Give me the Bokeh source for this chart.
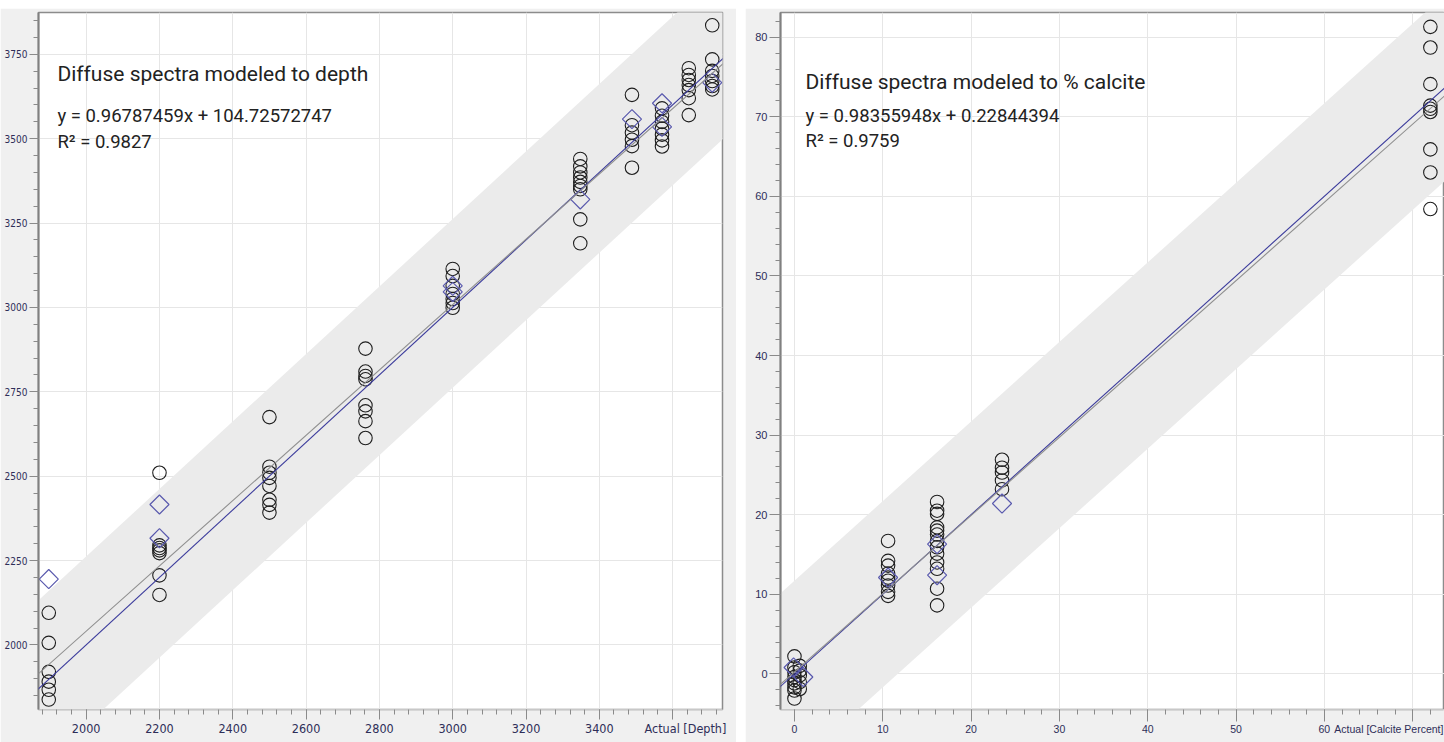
import numpy as np
from bokeh.plotting import figure
from bokeh.models import (Slope, Label, SingleIntervalTicker, FixedTicker, Range1d,
                          LinearAxis, CustomJSTickFormatter, Spacer)
from bokeh.layouts import row, column
from bokeh.embed import file_html
from bokeh.resources import INLINE

# ---------------- data: depth model ----------------
depth_cal_x = ([1898] * 6 + [2200] * 7 + [2500] * 8 + [2762] * 8 + [3000] * 7 +
               [3348] * 9 + [3489] * 6 + [3571] * 7 + [3644] * 7 + [3708] * 7)
depth_cal_y = [2095, 2006, 1920, 1891, 1867, 1838,
               2510, 2295, 2287, 2280, 2272, 2206, 2148,
               2675, 2528, 2510, 2495, 2471, 2430, 2415, 2392,
               2878, 2810, 2797, 2787, 2710, 2692, 2663, 2613,
               3114, 3093, 3064, 3040, 3025, 3013, 2999,
               3440, 3418, 3400, 3385, 3372, 3360, 3350, 3261, 3190,
               3630, 3540, 3518, 3497, 3478, 3414,
               3590, 3568, 3550, 3530, 3512, 3495, 3477,
               3709, 3689, 3674, 3659, 3644, 3620, 3570,
               3836, 3735, 3701, 3686, 3671, 3656, 3646]
depth_val_x = [1898, 2200, 2200, 3000, 3000, 3348, 3489, 3571, 3571, 3708]
depth_val_y = [2195, 2416, 2316, 3064, 3046, 3320, 3558, 3605, 3535, 3666]
depth_fit = (0.96787459, 104.72572747)
depth_band_x = [1800, 3800]
depth_band_upper = [2062, 4062]
depth_band_lower = [1562, 3562]
depth_xtick_labels = [2000, 2200, 2400, 2600, 2800, 3000, 3200, 3400]
depth_axis_title_at = 3635
depth_texts = ["Diffuse spectra modeled to depth",
               "y = 0.96787459x + 104.72572747",
               "R\u00b2 = 0.9827",
               "Actual [Depth]"]

# ---------------- data: calcite model ----------------
calc_cal_x = ([0.0] * 9 + [0.6] * 5 + [10.6] * 9 + [16.15] * 13 + [23.5] * 5 + [72.0] * 9)
calc_cal_y = [2.2, 0.8, -0.4, -0.8, -1.2, -1.7, -2.1, -3.1, 0.2,
              1.0, 0.4, -0.2, -1.05, -1.9,
              16.7, 14.2, 13.6, 12.6, 12.1, 11.7, 11.1, 10.3, 9.8,
              21.6, 20.5, 20.1, 18.4, 18.0, 17.5, 16.7, 15.9, 15.1, 14.0, 13.2, 10.7, 8.6,
              26.9, 25.9, 25.3, 24.3, 23.2,
              81.3, 78.7, 74.1, 71.4, 71.0, 70.6, 65.9, 63.0, 58.4]
calc_val_x = [-0.1, 1.0, 10.6, 16.15, 16.15, 23.5]
calc_val_y = [0.8, -0.4, 12.1, 16.3, 12.4, 21.4]
calc_fit = (0.98355948, 0.22844394)
calc_band_x = [-5, 80]
calc_band_upper = [6.7, 91.7]
calc_band_lower = [-16.7, 68.3]
calc_xtick_labels = [0, 10, 20, 30, 40, 50, 60]
calc_axis_title_at = 67.3
calc_texts = ["Diffuse spectra modeled to % calcite",
              "y = 0.98355948x + 0.22844394",
              "R\u00b2 = 0.9759",
              "Actual [Calcite Percent]"]

BG = "#f0f0f0"
TICK_COL = "#2e2e58"
TXT_COL = "#222222"
NARROW = "'Liberation Sans Narrow', 'DejaVu Sans Condensed', sans-serif"
SANS = "'Liberation Sans', Arial, sans-serif"


def make_plot(width, xr, yr, borders, cal, val, fit, band, xint, yint, xlabels, title_at,
              texts, text_pos, tick_font, xfs, yfs, xtick_out, ytick_out, title_fs):
    p = figure(width=width, height=734, x_range=Range1d(*xr), y_range=Range1d(*yr),
               output_backend="svg", toolbar_location=None,
               min_border_left=borders[0], min_border_right=borders[1],
               min_border_top=borders[2], min_border_bottom=borders[3])
    p.border_fill_color = BG
    p.background_fill_color = "white"
    p.outline_line_color = "#8c8c8c"
    p.outline_line_width = 1.5

    p.varea(x=band[0], y1=band[2], y2=band[1], fill_color="#ebebeb", fill_alpha=1)

    p.add_layout(Slope(gradient=1, y_intercept=0, line_color="#3c3c9c", line_width=1.1))
    p.add_layout(Slope(gradient=fit[0], y_intercept=fit[1], line_color="#8e8e8e", line_width=1.1))

    p.scatter(cal[0], cal[1], marker="circle", size=13.5, fill_color=None,
              line_color="#1e1e1e", line_width=1.1)
    p.scatter(val[0], val[1], marker="square", angle=np.pi / 4, size=13.5,
              fill_color=None, line_color="#5a5aae", line_width=1.2)

    # tick-mark axis (no labels)
    p.xaxis.ticker = SingleIntervalTicker(interval=xint, num_minor_ticks=5)
    p.yaxis.ticker = SingleIntervalTicker(interval=yint, num_minor_ticks=5)
    p.xgrid.ticker = p.xaxis.ticker
    p.ygrid.ticker = p.yaxis.ticker
    p.xaxis.formatter = CustomJSTickFormatter(code="return ''")
    p.xaxis.major_label_text_font_size = "1px"
    p.xaxis.major_label_standoff = 0
    for ax, tout in ((p.xaxis, xtick_out), (p.yaxis, ytick_out)):
        ax.major_tick_in = 0
        ax.minor_tick_in = 0
        ax.major_tick_out = tout
        ax.minor_tick_out = 5
        ax.major_tick_line_color = "#8a8a8a"
        ax.minor_tick_line_color = "#8a8a8a"
    p.yaxis.major_label_text_font = tick_font
    p.yaxis.major_label_text_font_size = yfs
    p.yaxis.major_label_text_color = TICK_COL
    p.yaxis.major_label_standoff = 2
    p.xaxis.axis_line_color = "#c8c8c8"
    p.yaxis.axis_line_color = "#808080"
    p.yaxis.axis_line_width = 2
    p.xgrid.grid_line_color = "#e6e6e6"
    p.ygrid.grid_line_color = "#e6e6e6"

    # label axis (numbers + axis title)
    lab = LinearAxis(ticker=FixedTicker(ticks=xlabels + [title_at], minor_ticks=[]),
                     major_label_overrides={title_at: texts[3]},
                     major_tick_in=0, major_tick_out=0, minor_tick_in=0, minor_tick_out=0,
                     axis_line_color=None, major_label_standoff=1,
                     major_label_text_font=tick_font, major_label_text_font_size=xfs,
                     major_label_text_color=TICK_COL)
    p.add_layout(lab, "below")

    (tx, ty), (ex, ey), (rx, ry) = text_pos
    p.add_layout(Label(x=tx, y=ty, text=texts[0], text_font="Roboto", text_font_size=title_fs,
                       text_color=TXT_COL, text_baseline="alphabetic"))
    p.add_layout(Label(x=ex, y=ey, text=texts[1], text_font="Roboto", text_font_size="18.5px",
                       text_color=TXT_COL, text_baseline="alphabetic"))
    p.add_layout(Label(x=rx, y=ry, text=texts[2], text_font="Roboto", text_font_size="18.5px",
                       text_color=TXT_COL, text_baseline="alphabetic"))
    return p


p1 = make_plot(736, (1870, 3736), (1808.5, 3874), (38, 14, 4, 29),
               (depth_cal_x, depth_cal_y), (depth_val_x, depth_val_y), depth_fit,
               (depth_band_x, depth_band_upper, depth_band_lower),
               200, 250, depth_xtick_labels, depth_axis_title_at, depth_texts,
               ((1921.5, 3691), (1921.5, 3566), (1921.5, 3491)),
               NARROW, "12.5px", "10px", 10, 9, "21px")

p2 = make_plot(699, (-1.58, 73.6), (-4.48, 83.1), (35, 0, 4, 33),
               (calc_cal_x, calc_cal_y), (calc_val_x, calc_val_y), calc_fit,
               (calc_band_x, calc_band_upper, calc_band_lower),
               10, 10, calc_xtick_labels, calc_axis_title_at, calc_texts,
               ((1.25, 74.4), (1.25, 70.1), (1.25, 66.9)),
               SANS, "10.5px", "11px", 12, 11, "21px")

layout = column(Spacer(height=8), row(p1, Spacer(width=9), p2))
open("out.html", "w").write(file_html(layout, INLINE))
